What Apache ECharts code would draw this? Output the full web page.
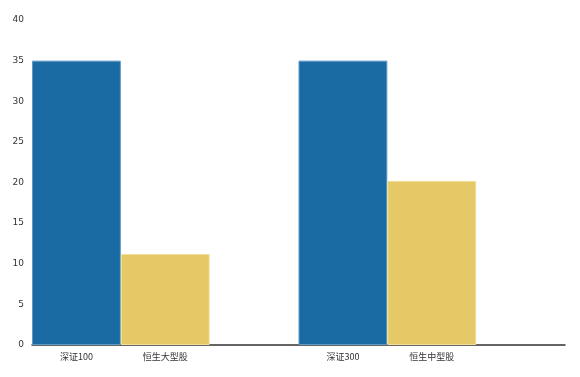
<!DOCTYPE html>
<html><head><meta charset="utf-8">
<script src="https://cdn.jsdelivr.net/npm/echarts@6/dist/echarts.min.js"></script>
<style>html,body{margin:0;padding:0;background:#fff}#c{width:580px;height:377px}</style>
</head><body><div id="c"></div>
<script>
var categories = ['深证100', '恒生大型股', '', '深证300', '恒生中型股', ''];
var indexValues = [35, null, null, 35, null, null];
var hangSengValues = [null, 11.2, null, null, 20.2, null];
var yTicks = [0, 5, 10, 15, 20, 25, 30, 35, 40];

var chart = echarts.init(document.getElementById('c'), null, {renderer: 'canvas'});
chart.setOption({
  animation: false,
  grid: {left: 32, right: 15, top: 20, bottom: 32},
  xAxis: {
    type: 'category', data: categories,
    axisLine: {lineStyle: {color: '#333', width: 1.5}},
    axisTick: {show: false},
    axisLabel: {color: '#333', fontSize: 9, margin: 7, interval: 0, fontFamily: 'Noto Sans CJK SC'}
  },
  yAxis: {
    type: 'value', min: yTicks[0], max: yTicks[yTicks.length - 1], interval: 5,
    axisLine: {show: false}, axisTick: {show: false}, splitLine: {show: false},
    axisLabel: {color: '#333', fontSize: 9, margin: 8, fontFamily: 'DejaVu Sans'}
  },
  series: [
    {type: 'bar', stack: 's', data: indexValues, barWidth: '100%',
     itemStyle: {color: '#1a6ba3', borderColor: '#5f9ac6', borderWidth: 1}},
    {type: 'bar', stack: 's', data: hangSengValues, barWidth: '100%',
     itemStyle: {color: '#e5c966', borderColor: '#f2e09a', borderWidth: 1}}
  ]
});
</script></body></html>
